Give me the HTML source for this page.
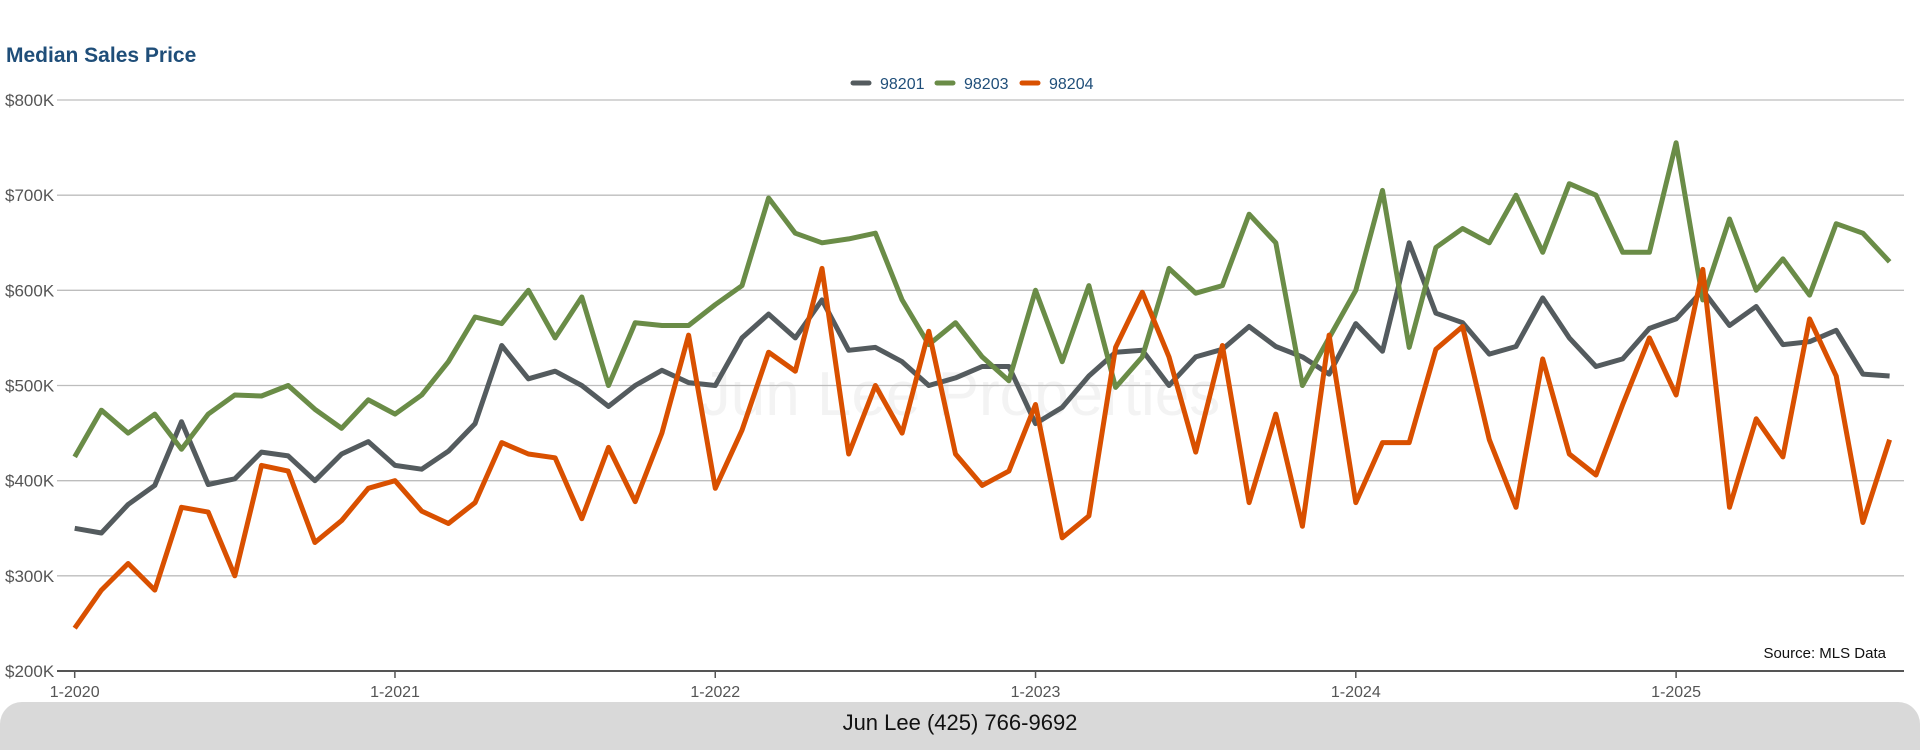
<!DOCTYPE html>
<html><head><meta charset="utf-8"><style>
html,body{margin:0;padding:0;background:#fff;}
body{width:1920px;height:750px;overflow:hidden;position:relative;font-family:"Liberation Sans",sans-serif;}
#title{position:absolute;left:6px;top:44px;font-size:21px;font-weight:bold;color:#1f4e79;}
#footer{position:absolute;left:0;top:702px;width:1920px;height:48px;background:#d9d9d9;border-radius:22px 22px 0 0;text-align:center;line-height:42px;font-size:22px;color:#111;}
svg{position:absolute;left:0;top:0;}
</style></head><body>
<div id="title">Median Sales Price</div>
<svg id="chart" width="1920" height="702"></svg>
<div id="footer">Jun Lee (425) 766-9692</div>
<script>
const yTicks=[200,300,400,500,600,700,800];
const xTickLabels=["1-2020","1-2021","1-2022","1-2023","1-2024","1-2025"];
const seriesNames=["98201","98203","98204"];
const s98201=[350,345,375,395,462,396,402,430,426,400,428,441,416,412,431,460,542,507,515,500,478,500,516,503,500,550,575,550,590,537,540,525,500,508,520,520,460,477,510,535,537,500,530,538,562,541,530,512,565,536,650,576,566,533,541,592,550,520,528,560,570,600,563,583,543,546,558,512,510];
const s98203=[425,474,450,470,433,470,490,489,500,475,455,485,470,490,525,572,565,600,550,593,500,566,563,563,585,605,697,660,650,654,660,590,543,566,530,505,600,525,605,498,530,623,597,605,680,650,500,550,600,705,540,645,665,650,700,640,712,700,640,640,755,590,675,600,633,595,670,660,630];
const s98204=[245,285,313,285,372,367,300,416,410,335,358,392,400,368,355,377,440,428,424,360,435,378,450,553,392,453,535,515,623,428,500,450,557,428,395,410,480,340,363,540,598,530,430,542,377,470,352,553,377,440,440,538,562,443,372,528,428,406,480,550,490,622,372,465,425,570,510,356,443];
const colors=["#545b5e","#6a8c47","#d95000"];
const svg=document.getElementById('chart');
const NS='http://www.w3.org/2000/svg';
const x0=74.7,monthW=26.69;
function X(i){return x0+i*monthW;}
function Y(v){return 671-(v-200)*(571/600);}
function mk(t,a){const e=document.createElementNS(NS,t);for(const k in a)e.setAttribute(k,a[k]);svg.appendChild(e);return e;}
let wm=mk('text',{x:960,y:415,'font-size':'62','fill':'#f3f3f3','text-anchor':'middle','font-family':'Liberation Sans, sans-serif'});
wm.textContent='Jun Lee Properties';


yTicks.forEach(v=>{
  const g=mk('line',{x1:57,x2:1904,y1:Y(v),y2:Y(v),stroke:v===200?'#555':'#bdbdbd','stroke-width':v===200?2:1.3});
  
  
  const t=mk('text',{x:5,y:Y(v)+6,'font-size':'17','fill':'#555'});
  t.textContent='$'+v+'K';
  
  
});
xTickLabels.forEach((l,k)=>{
  const xx=X(k*12);
  const tk=mk('line',{x1:xx,x2:xx,y1:671,y2:678,stroke:'#555','stroke-width':1.5});
  
  
  const t=mk('text',{x:xx,y:697,'font-size':'16','fill':'#555','text-anchor':'middle'});
  t.textContent=l;
  
  
});
[s98201,s98203,s98204].forEach((s,k)=>{
  const p=mk('polyline',{points:s.map((v,i)=>X(i).toFixed(1)+','+Y(v).toFixed(1)).join(' '),fill:'none',stroke:colors[k],'stroke-width':5,'stroke-linejoin':'round'});
  
  
});
const lx=[853,937,1022];
seriesNames.forEach((n,k)=>{
  const l=mk('line',{x1:lx[k],x2:lx[k]+16,y1:83,y2:83,stroke:colors[k],'stroke-width':5,'stroke-linecap':'round'});
  
  
  const t=mk('text',{x:lx[k]+27,y:89,'font-size':'16','fill':'#1f4e79'});
  t.textContent=n;
  
  
});
const src=mk('text',{x:1886,y:658,'font-size':'15','fill':'#111','text-anchor':'end'});
src.textContent='Source: MLS Data';


</script>
</body></html>
